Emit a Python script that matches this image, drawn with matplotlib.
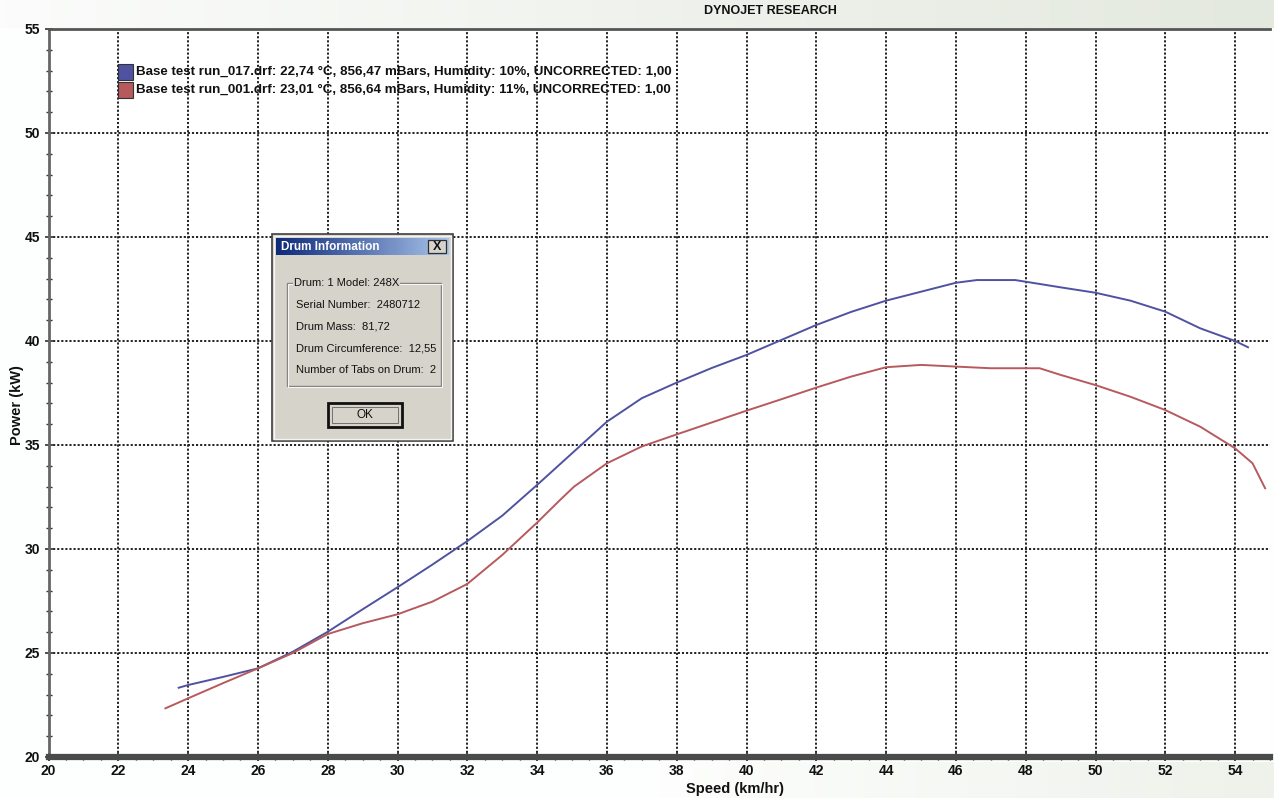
import numpy as np
import matplotlib
matplotlib.use("Agg")
import matplotlib.pyplot as plt
from matplotlib.patches import Rectangle
from matplotlib.colors import LinearSegmentedColormap
from matplotlib.ticker import MultipleLocator

# ---- data ----
blue_speed = [23.73, 24, 25, 26, 27, 28, 29, 30, 31, 32, 33, 34, 35, 36, 37, 38, 39, 40,
              41, 42, 43, 44, 45, 46, 46.6, 47.7, 48, 49, 50, 51, 52, 53, 54, 54.37]
blue_power = [23.33, 23.46, 23.85, 24.26, 25.06, 26.02, 27.1, 28.16, 29.25, 30.38, 31.6,
              33.08, 34.6, 36.12, 37.25, 38.0, 38.7, 39.33, 40.05, 40.77, 41.4, 41.94,
              42.37, 42.8, 42.93, 42.93, 42.85, 42.58, 42.32, 41.94, 41.41, 40.61, 40.0, 39.7]

red_speed = [23.35, 24, 25, 26, 27, 28, 29, 30, 31, 32, 33, 34, 34.66, 35.06, 36, 37,
             38, 39, 40, 41, 42, 43, 44, 45, 46, 47, 48, 48.4, 49, 50, 51, 52, 53, 54,
             54.5, 54.86]
red_power = [22.34, 22.82, 23.55, 24.26, 25.0, 25.91, 26.43, 26.86, 27.47, 28.32, 29.71,
             31.27, 32.36, 33.0, 34.12, 34.93, 35.51, 36.08, 36.65, 37.2, 37.76, 38.29,
             38.74, 38.85, 38.77, 38.69, 38.69, 38.69, 38.37, 37.88, 37.32, 36.68, 35.88,
             34.84, 34.12, 32.92]

legend_labels = [
    "Base test run_017.drf: 22,74 \u00b0C, 856,47 mBars, Humidity: 10%, UNCORRECTED: 1,00",
    "Base test run_001.drf: 23,01 \u00b0C, 856,64 mBars, Humidity: 11%, UNCORRECTED: 1,00",
]
title = "DYNOJET RESEARCH"
x_label = "Speed (km/hr)"
y_label = "Power (kW)"
dialog_title = "Drum Information"
dialog_group = "Drum: 1 Model: 248X"
dialog_lines = ["Serial Number:  2480712", "Drum Mass:  81,72",
                "Drum Circumference:  12,55", "Number of Tabs on Drum:  2"]

W, H = 1274, 798
BLUE = "#4f52a0"
RED = "#b65a5e"
TICKFONT = "Liberation Sans"
DLGFONT = "Liberation Sans"

fig = plt.figure(figsize=(W / 100, H / 100), dpi=100)
fig.patch.set_facecolor("#fdfefe")


def fx(x):
    return x / W


def fy(y):
    return 1 - y / H


def frect(x0, y0, x1, y1, **kw):
    r = Rectangle((fx(x0), fy(y1)), fx(x1) - fx(x0), fy(y0) - fy(y1),
                  transform=fig.transFigure, **kw)
    fig.add_artist(r)
    return r


def gradient_axes(x0, y0, x1, y1, c0, c1, z=0):
    a = fig.add_axes([fx(x0), fy(y1), fx(x1) - fx(x0), fy(y0) - fy(y1)], zorder=z)
    cm = LinearSegmentedColormap.from_list("g", [c0, c1])
    a.imshow(np.linspace(0, 1, 256)[None, :], aspect="auto", cmap=cm,
             extent=[0, 1, 0, 1])
    a.set_axis_off()
    return a


# top band
gradient_axes(0, 0, W, 28, "#fbfcfb", "#e4e9df", z=0)
# bottom band (light tint)
gradient_axes(660, 762, W, 798, "#fdfefd", "#eef2ea", z=0)

# ---- main axes ----
ax = fig.add_axes([fx(48.5), fy(757), fx(1270) - fx(48.5), fy(29) - fy(757)], zorder=2)
ax.set_facecolor("white")
ax.set_xlim(20, 55)
ax.set_ylim(20, 55)

ax.plot(blue_speed, blue_power, color=BLUE, lw=1.4, zorder=3)
ax.plot(red_speed, red_power, color=RED, lw=1.4, zorder=3)

ax.xaxis.set_major_locator(MultipleLocator(2))
ax.xaxis.set_minor_locator(MultipleLocator(0.5))
ax.yaxis.set_major_locator(MultipleLocator(5))
ax.yaxis.set_minor_locator(MultipleLocator(1))

for v in np.arange(22, 55, 2):
    ax.axvline(v, color="#222222", lw=1.4, ls=(0, (1.1, 1.0)), zorder=1)
for v in np.arange(25, 55, 5):
    ax.axhline(v, color="#222222", lw=1.4, ls=(0, (1.1, 1.0)), zorder=1)

ax.spines["right"].set_visible(False)
ax.spines["top"].set_color("#555555")
ax.spines["top"].set_linewidth(2)
ax.spines["left"].set_color("#666666")
ax.spines["left"].set_linewidth(2)
ax.spines["bottom"].set_color("#4a4a4a")
ax.spines["bottom"].set_linewidth(4.5)

ax.tick_params(axis="x", which="major", direction="inout", length=6, width=1.2,
               color="#222222", pad=2)
ax.tick_params(axis="x", which="minor", direction="inout", length=5, width=1.0,
               color="#222222")
ax.tick_params(axis="y", which="major", direction="inout", length=6, width=1.2,
               color="#333333", pad=3)
ax.tick_params(axis="y", which="minor", direction="inout", length=4, width=1.0,
               color="#333333")

for lab in ax.get_xticklabels() + ax.get_yticklabels():
    lab.set_fontfamily(TICKFONT)
    lab.set_fontweight("bold")
    lab.set_fontsize(10)
    lab.set_color("#111111")

fig.text(fx(735), fy(789), x_label, ha="center", va="center", fontfamily=TICKFONT,
         fontweight="bold", fontsize=10.5, color="#111111")
fig.text(fx(17), fy(405), y_label, ha="center", va="center", rotation=90,
         fontfamily=TICKFONT, fontweight="bold", fontsize=10.5, color="#111111")

fig.text(fx(770), fy(11), title, ha="center", va="center", fontfamily=TICKFONT,
         fontweight="bold", fontsize=9, color="#111111")

# legend (custom, as in the reference)
for i, (lab, col) in enumerate(zip(legend_labels, [BLUE, RED])):
    yc = 72 + i * 18
    frect(118, yc - 8, 133, yc + 8, facecolor=col, edgecolor="#333333", lw=0.8, zorder=5)
    fig.text(fx(136), fy(yc), lab, ha="left", va="center", fontfamily=TICKFONT,
             fontweight="bold", fontsize=9.6, color="#111111", zorder=5)

# ---- dialog box ----
frect(272, 234, 453, 441, facecolor="#d6d3cb", edgecolor="#404040", lw=1.2, zorder=6)
frect(274, 236, 451, 439, facecolor="none", edgecolor="#f4f4f4", lw=1.0, zorder=6)
gradient_axes(276, 238, 449, 255, "#0e2a7a", "#a8c4ea", z=7)
fig.text(fx(281), fy(246.5), dialog_title, ha="left", va="center", fontfamily=DLGFONT,
         fontweight="bold", fontsize=8.5, color="white", zorder=9)
frect(428, 240, 446, 253, facecolor="#d6d3cb", edgecolor="#303030", lw=0.9, zorder=9)
fig.text(fx(437), fy(246.5), "X", ha="center", va="center", fontfamily=DLGFONT,
         fontweight="bold", fontsize=9, color="#111111", zorder=10)

frect(287, 283, 441, 386, facecolor="none", edgecolor="#808080", lw=1.0, zorder=7)
frect(288, 284, 442, 387, facecolor="none", edgecolor="#f6f6f6", lw=0.8, zorder=7)
fig.text(fx(294), fy(283), dialog_group, ha="left", va="center", fontfamily=DLGFONT,
         fontsize=8, color="#111111", zorder=9,
         bbox=dict(facecolor="#d6d3cb", edgecolor="none", pad=0.5))
for i, line in enumerate(dialog_lines):
    fig.text(fx(296), fy(305 + i * 21.7), line, ha="left", va="center",
             fontfamily=DLGFONT, fontsize=8, color="#111111", zorder=9)

frect(328, 403, 402, 427, facecolor="#d6d3cb", edgecolor="#111111", lw=2.0, zorder=8)
frect(332, 407, 398, 423, facecolor="none", edgecolor="#707070", lw=0.7, zorder=8)
fig.text(fx(365), fy(415), "OK", ha="center", va="center", fontfamily=DLGFONT,
         fontsize=8.5, color="#111111", zorder=9)

fig.savefig("out.png", dpi=100, facecolor=fig.get_facecolor())
